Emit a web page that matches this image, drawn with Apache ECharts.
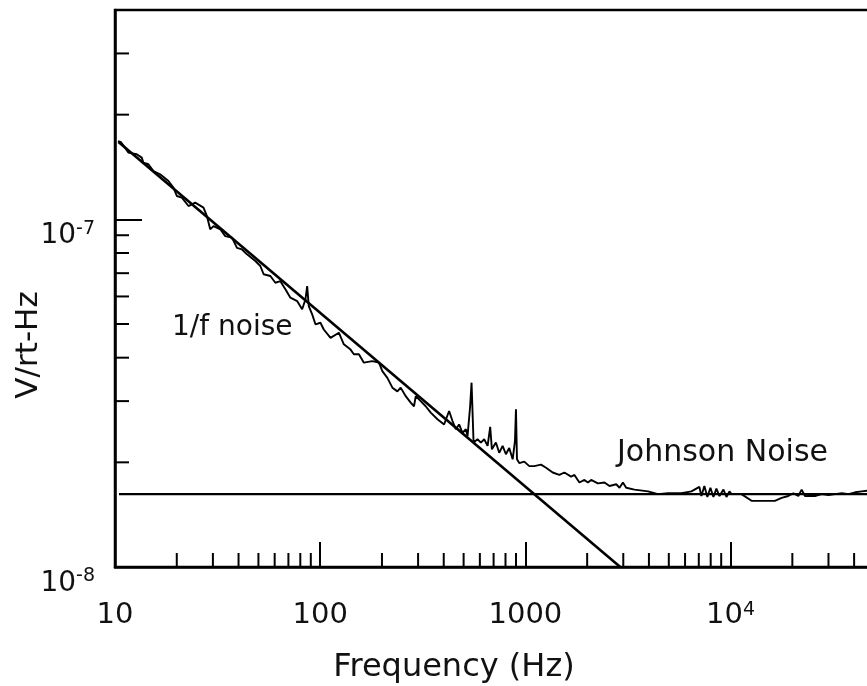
<!DOCTYPE html>
<html><head><meta charset="utf-8">
<script src="https://cdn.jsdelivr.net/npm/echarts@6/dist/echarts.min.js"></script>
<style>html,body{margin:0;padding:0;background:#fff}#c{width:867px;height:686px}</style>
</head><body><div id="c"></div>
<script>
// Measured noise spectrum [frequency Hz, V/rt-Hz]
const spectrum = [
[10.34,1.677e-7],[10.70,1.666e-7],[11.19,1.608e-7],[11.61,1.556e-7],[12.76,1.539e-7],[13.50,1.505e-7],
[13.74,1.456e-7],[14.55,1.440e-7],[15.39,1.377e-7],[16.59,1.348e-7],[18.22,1.289e-7],[19.26,1.234e-7],
[20.02,1.167e-7],[21.18,1.155e-7],[22.81,1.092e-7],[24.59,1.117e-7],[27.00,1.081e-7],[28.05,1.022e-7],
[29.11,9.36e-8],[30.21,9.56e-8],[32.59,9.36e-8],[34.46,8.95e-8],[37.16,8.86e-8],[39.31,8.28e-8],
[41.59,8.19e-8],[43.99,7.93e-8],[48.30,7.59e-8],[51.08,7.34e-8],[53.02,6.95e-8],[57.17,6.87e-8],
[60.47,6.57e-8],[63.97,6.64e-8],[67.68,6.29e-8],[71.59,5.95e-8],[77.19,5.82e-8],[81.66,5.51e-8],
[84.76,5.88e-8],[86.40,6.43e-8],[87.97,5.63e-8],[91.40,5.33e-8],[94.84,4.99e-8],[100.3,5.04e-8],
[104.1,4.82e-8],[112.3,4.56e-8],[123.3,4.72e-8],[130.4,4.37e-8],[140.6,4.22e-8],[145.9,4.09e-8],
[154.4,4.09e-8],[163.3,3.87e-8],[179.5,3.91e-8],[193.3,3.87e-8],[200.9,3.66e-8],[212.5,3.50e-8],
[224.8,3.28e-8],[237.8,3.20e-8],[246.8,3.28e-8],[261.1,3.10e-8],[276.1,2.97e-8],[286.6,2.90e-8],
[292.2,3.10e-8],[309.0,3.00e-8],[326.8,2.90e-8],[345.7,2.78e-8],[372.8,2.66e-8],[401.6,2.57e-8],
[424.8,2.81e-8],[441.4,2.63e-8],[458.1,2.49e-8],[475.3,2.57e-8],[493.8,2.43e-8],[512.6,2.49e-8],
[522.5,2.38e-8],[538.0,2.90e-8],[546.6,3.39e-8],[559.0,2.28e-8],[584.7,2.33e-8],[606.8,2.28e-8],
[629.9,2.33e-8],[654.4,2.23e-8],[673.8,2.53e-8],[686.8,2.18e-8],[718.4,2.28e-8],[745.6,2.13e-8],
[774.6,2.23e-8],[803.8,2.11e-8],[834.1,2.20e-8],[867.0,2.04e-8],[889.6,2.30e-8],[899.7,2.84e-8],
[909.9,2.04e-8],[933.7,1.99e-8],[987.6,2.01e-8],[1045,1.95e-8],[1105,1.95e-8],[1192,1.97e-8],
[1261,1.93e-8],[1359,1.87e-8],[1464,1.84e-8],[1549,1.87e-8],[1670,1.82e-8],[1734,1.84e-8],
[1834,1.75e-8],[1940,1.78e-8],[2016,1.75e-8],[2092,1.78e-8],[2255,1.74e-8],[2430,1.75e-8],
[2570,1.71e-8],[2772,1.73e-8],[2876,1.69e-8],[2988,1.75e-8],[3100,1.69e-8],[3404,1.67e-8],
[3959,1.65e-8],[4430,1.62e-8],[4955,1.63e-8],[5755,1.63e-8],[6442,1.65e-8],[7047,1.70e-8],
[7205,1.60e-8],[7453,1.71e-8],[7709,1.59e-8],[7975,1.69e-8],[8248,1.59e-8],[8531,1.68e-8],
[8826,1.60e-8],[9232,1.67e-8],[9548,1.59e-8],[9874,1.65e-8],[10100,1.62e-8],[11300,1.62e-8],
[12650,1.55e-8],[13640,1.55e-8],[16440,1.55e-8],[17740,1.58e-8],[19110,1.60e-8],[20220,1.63e-8],
[21390,1.60e-8],[22200,1.67e-8],[23040,1.60e-8],[25780,1.60e-8],[27800,1.62e-8],[29990,1.61e-8],
[32300,1.62e-8],[34830,1.63e-8],[37550,1.62e-8],[40450,1.64e-8],[43610,1.65e-8],[47010,1.66e-8],
[50000,1.67e-8]
];
// 1/f fit line and Johnson noise floor
const fitLine = [[10.4, 1.668e-7], [2900, 1.0e-8]];
const johnsonLine = [[10.46, 1.62e-8], [50000, 1.62e-8]];

const xRange = [10, 50000];
const yRange = [1e-8, 4e-7];
const xTickValues = [10, 100, 1000, 10000];
const xTickText = ['10', '100', '1000', '10'];
const xTickSup = ['', '', '', '4'];
const yTickValues = [1e-8, 1e-7];
const yTickText = ['10', '10'];
const yTickSup = ['-8', '-7'];
const xMinorTicks = [20,30,40,50,60,70,80,90,200,300,400,500,600,700,800,900,
  2000,3000,4000,5000,6000,7000,8000,9000,20000,30000,40000];
const yMinorTicks = [2e-8,3e-8,4e-8,5e-8,6e-8,7e-8,8e-8,9e-8,2e-7,3e-7];

const FONT = '"DejaVu Sans", sans-serif';
const INK = '#111';

function labelFor(values, text, sup, v, b, s) {
  const e = Math.round(Math.log10(v));
  for (let i = 0; i < values.length; i++) {
    if (Math.round(Math.log10(values[i])) === e) {
      return '{' + b + '|' + text[i] + '}' + (sup[i] ? '{' + s + '|' + sup[i] + '}' : '');
    }
  }
  return '';
}

const chart = echarts.init(document.getElementById('c'), null, {renderer: 'canvas'});
chart.setOption({
  animation: false,
  backgroundColor: '#fff',
  grid: {left: 115, top: 10, width: 759, height: 557, show: true, borderColor: '#000', borderWidth: 2.5,
         backgroundColor: 'transparent', containLabel: false, outerBoundsMode: 'none'},
  xAxis: {
    type: 'log', logBase: 10, min: xRange[0], max: xRange[1],
    axisLine: {show: true, lineStyle: {color: '#000', width: 2.5}},
    splitLine: {show: false},
    axisTick: {show: true, inside: true, length: 25, lineStyle: {color: '#000', width: 2}},
    minorTick: {show: false},
    axisLabel: {
      show: true, margin: 34, showMinLabel: true, showMaxLabel: false, hideOverlap: false,
      formatter: v => labelFor(xTickValues, xTickText, xTickSup, v, 'b', 's'),
      rich: {
        b: {fontFamily: FONT, fontSize: 29, lineHeight: 29, color: INK},
        s: {fontFamily: FONT, fontSize: 19, lineHeight: 2, verticalAlign: 'top', color: INK}
      }
    }
  },
  yAxis: {
    type: 'log', logBase: 10, min: yRange[0], max: yRange[1],
    axisLine: {show: true, lineStyle: {color: '#000', width: 2.5}},
    splitLine: {show: false},
    axisTick: {show: true, inside: true, length: 27, lineStyle: {color: '#000', width: 2}},
    minorTick: {show: false},
    axisLabel: {
      show: true, margin: 20, align: 'right', verticalAlign: 'top',
      showMinLabel: true, showMaxLabel: false, hideOverlap: false,
      formatter: v => labelFor(yTickValues, yTickText, yTickSup, v, 'b', 's'),
      rich: {
        b: {fontFamily: FONT, fontSize: 28, lineHeight: 33, color: INK},
        s: {fontFamily: FONT, fontSize: 19, lineHeight: 8, verticalAlign: 'top', color: INK}
      }
    }
  },
  series: [
    {type: 'line', data: spectrum, showSymbol: false, symbol: 'none', silent: true,
     lineStyle: {color: '#000', width: 1.9}, z: 3},
    {type: 'line', data: fitLine, showSymbol: false, symbol: 'none', silent: true,
     lineStyle: {color: '#000', width: 2.6}, z: 4},
    {type: 'line', data: johnsonLine, showSymbol: false, symbol: 'none', silent: true,
     lineStyle: {color: '#000', width: 2.2}, z: 4},
    {type: 'custom', silent: true, clip: false, z: 5,
     data: xMinorTicks.map(v => [v, yRange[0]]),
     renderItem: (params, api) => {
       const p = api.coord([api.value(0), api.value(1)]);
       return {type: 'line', shape: {x1: p[0], y1: p[1], x2: p[0], y2: p[1] - 14},
               style: {stroke: '#000', lineWidth: 2}};
     }},
    {type: 'custom', silent: true, clip: false, z: 5,
     data: yMinorTicks.map(v => [xRange[0], v]),
     renderItem: (params, api) => {
       const p = api.coord([api.value(0), api.value(1)]);
       return {type: 'line', shape: {x1: p[0], y1: p[1], x2: p[0] + 14, y2: p[1]},
               style: {stroke: '#000', lineWidth: 2}};
     }}
  ],
  graphic: [
    {type: 'text', x: 454, y: 668, silent: true,
     style: {text: 'Frequency (Hz)', font: '32px ' + FONT, fill: INK, align: 'center', verticalAlign: 'middle'}},
    {type: 'text', x: 29, y: 345, rotation: Math.PI / 2, silent: true,
     style: {text: 'V/rt-Hz', font: '31px ' + FONT, fill: INK, align: 'center', verticalAlign: 'middle'}},
    {type: 'text', x: 172, y: 328, silent: true,
     style: {text: '1/f noise', font: '28px ' + FONT, fill: INK, align: 'left', verticalAlign: 'middle'}},
    {type: 'text', x: 617, y: 453.5, silent: true,
     style: {text: 'Johnson Noise', font: '30px ' + FONT, fill: INK, align: 'left', verticalAlign: 'middle'}}
  ]
});
</script></body></html>
